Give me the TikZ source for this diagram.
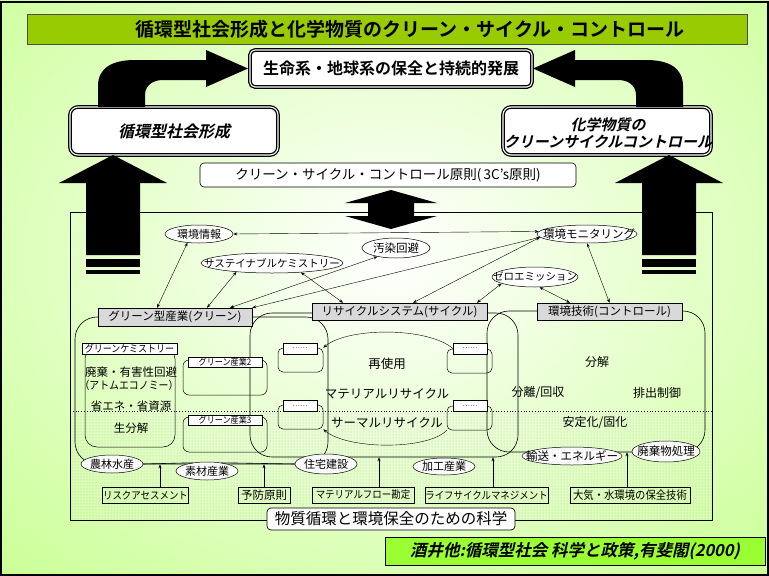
\documentclass[tikz,border=0pt]{standalone}
\usepackage{fontspec}
\setmainfont{Noto Sans CJK JP}[BoldFont={Noto Sans CJK JP Bold}]
\newfontfamily\jpbsl{Noto Sans CJK JP Bold}[FakeSlant=0.22]
\newfontfamily\jpc{Noto Sans CJK JP}[FakeStretch=0.9]
\usetikzlibrary{shapes.geometric,patterns,arrows.meta,calc}
\newcommand\fsz[1]{\fontsize{#1}{#1}\selectfont}
\definecolor{bglight}{HTML}{CCFF99}
\definecolor{titlegreen}{HTML}{99CC00}
\definecolor{srcgreen}{HTML}{99FF33}
\definecolor{graybox}{HTML}{D9D9D9}
\begin{document}
\begin{tikzpicture}[x=1pt,y=-1pt,
  ell/.style={ellipse, draw, line width=0.5pt, inner sep=0pt, fill=white},
  dotell/.style={ell, postaction={pattern=dots, pattern color=gray!50}},
  txt/.style={inner sep=0pt},
  glabel/.style={draw, line width=0.5pt, fill=graybox, inner sep=0pt, font=\fsz{11.5pt}},
  region/.style={draw, line width=0.6pt, rounded corners=22pt, inner sep=0pt},
  rbox/.style={draw, line width=0.5pt, rounded corners=6pt, inner sep=0pt},
  wlabel/.style={draw, line width=0.5pt, fill=white, inner sep=0pt},
  bbox/.style={draw, line width=0.5pt, inner sep=0.5pt, minimum height=16pt, font=\jpc\fsz{10.5pt}},
  link/.style={line width=0.4pt, {Stealth[length=4pt,width=3pt]}-{Stealth[length=4pt,width=3pt]}},
  uparr/.style={line width=0.4pt, -{Stealth[length=4pt,width=3pt]}},
  heavybox/.style={draw, line width=1.3pt, double=white, double distance=1.1pt, rounded corners=8pt, fill=white, inner sep=0pt}
]
\useasboundingbox (0,0) rectangle (769,576);
\begin{scope}
\clip (0,0) rectangle (769,576);
\fill[bglight] (0,0) rectangle (769,576);
\shade[inner color=white, outer color=bglight] (391,255) ellipse [x radius=560pt, y radius=430pt];
\end{scope}
\draw[line width=1.5pt] (1,2) rectangle (768,575);

% title
\node[draw=black!70, line width=0.6pt, fill=titlegreen, minimum width=720pt, minimum height=30pt, inner sep=0pt] (title) at (387,29) {};
\node[txt, font=\bfseries\fsz{19pt}] (title-t) at (410,29) {循環型社会形成と化学物質のクリーン・サイクル・コントロール};

% goal and side boxes
\node[heavybox, rounded corners=5pt, minimum width=282pt, minimum height=37pt, font=\bfseries\fsz{16pt}] (goal) at (391,68.5) {生命系・地球系の保全と持続的発展};
\node[heavybox, minimum width=208pt, minimum height=48pt] (lbox) at (174,131) {};
\node[txt, font=\jpbsl\fsz{16pt}] (lbox-t) at (lbox) {循環型社会形成};
\node[heavybox, minimum width=208pt, minimum height=48pt] (rbox) at (607,131) {};
\node[txt, align=center, font=\jpbsl\fontsize{15pt}{17pt}\selectfont] (rbox-t) at (608,133) {化学物質の\\クリーンサイクルコントロール};

% bent block arrows
\fill (98,107) -- (98,86) .. controls (98,68) and (112,60) .. (135,60) -- (206,60) -- (206,50) -- (248,68.5) -- (206,87) -- (206,80) -- (163,80) .. controls (152,80) and (145,86) .. (145,95) -- (145,107) -- cycle;
\fill (683,107) -- (683,86) .. controls (683,68) and (669,60) .. (646,60) -- (575,60) -- (575,50) -- (533,68.5) -- (575,87) -- (575,80) -- (618,80) .. controls (629,80) and (636,86) .. (636,95) -- (636,107) -- cycle;

% principle box
\node[draw, line width=0.6pt, rounded corners=4pt, fill=white, minimum width=376pt, minimum height=24pt, inner sep=0pt, font=\fsz{13.5pt}] (pr) at (388,175) {クリーン・サイクル・コントロール原則(\,3C's原則)};

% content frame
\fill[pattern=dots, pattern color=gray!50] (70,411) rectangle (712,520);
\draw[dotted, line width=0.8pt] (70,411) -- (712,411);
\node[draw, line width=0.8pt, minimum width=642pt, minimum height=308pt, inner sep=0pt] (frame) at (391,366) {};

% up block arrows
\fill (113,155) -- (167,183) -- (140,183) -- (140,255) -- (86,255) -- (86,183) -- (59,183) -- cycle;
\fill (86,259) rectangle (140,267);
\fill (86,270) rectangle (140,274);
\fill (669,155) -- (723,183) -- (696,183) -- (696,255) -- (642,255) -- (642,183) -- (615,183) -- cycle;
\fill (642,259) rectangle (696,267);
\fill (642,270) rectangle (696,274);
% central double arrow
\fill (391,190) -- (437,203) -- (414,203) -- (414,216) -- (437,216) -- (391,229) -- (345,216) -- (368,216) -- (368,203) -- (345,203) -- cycle;

% regions
\node[region, minimum width=253pt, minimum height=147pt] (greenR) at (201.5,390.5) {};
\node[region, minimum width=268pt, minimum height=144pt] (cycleR) at (384,385) {};
\node[region, minimum width=218pt, minimum height=141pt] (ctrlR) at (596,381.5) {};

% green internals
\node[rbox, rounded corners=12pt, minimum width=90pt, minimum height=100pt] (gchemR) at (130,397) {};
\node[wlabel, minimum width=95pt, minimum height=11pt, font=\jpc\fsz{10pt}] (gchemL) at (129.5,348.5) {グリーンケミストリー};
\node[txt, font=\fsz{11.5pt}] (g-t1) at (131,372) {廃棄・有害性回避};
\node[txt, font=\jpc\fsz{11pt}] (g-t2) at (129,385) {（アトムエコノミー）};
\node[txt, font=\fsz{11.5pt}] (g-t3) at (131,406) {省エネ・省資源};
\node[txt, font=\fsz{11.5pt}] (g-t4) at (131,428) {生分解};
\node[rbox, minimum width=84pt, minimum height=35pt] (gi2R) at (225,377.5) {};
\node[wlabel, minimum width=74pt, minimum height=10pt, font=\jpc\fsz{9pt}] (gi2L) at (225,362) {グリーン産業2};
\node[rbox, minimum width=84pt, minimum height=35pt] (gi3R) at (225,434.5) {};
\node[wlabel, minimum width=74pt, minimum height=10pt, font=\jpc\fsz{9pt}] (gi3L) at (225,420) {グリーン産業3};

% cycle internals
\node[rbox, rounded corners=5pt, minimum width=45pt, minimum height=24pt] (lsb1) at (300.5,360) {};
\node[wlabel, minimum width=34pt, minimum height=11pt, font=\fsz{7pt}] (lsl1) at (300,348.5) {……};
\node[rbox, rounded corners=5pt, minimum width=45pt, minimum height=24pt] (lsb2) at (300.5,417) {};
\node[wlabel, minimum width=34pt, minimum height=11pt, font=\fsz{7pt}] (lsl2) at (300,406) {……};
\node[rbox, rounded corners=5pt, minimum width=45pt, minimum height=24pt] (rsb1) at (469.5,361) {};
\node[wlabel, minimum width=34pt, minimum height=11pt, font=\fsz{7pt}] (rsl1) at (470,348.5) {……};
\node[rbox, rounded corners=5pt, minimum width=45pt, minimum height=24pt] (rsb2) at (469.5,418) {};
\node[wlabel, minimum width=34pt, minimum height=11pt, font=\fsz{7pt}] (rsl2) at (470,406) {……};
\draw[uparr] (rsl1.west) .. controls (428,327) and (348,327) .. (lsb1.north east);
\draw[uparr] (rsb2.south west) .. controls (428,450) and (348,450) .. (lsb2.south east);
\node[txt, font=\fsz{12.5pt}] (c-t1) at (387,364) {再使用};
\node[txt, font=\fsz{12.5pt}] (c-t2) at (387,394) {マテリアルリサイクル};
\node[txt, font=\fsz{12.5pt}] (c-t3) at (387,423) {サーマルリサイクル};

% control internals
\node[txt, font=\fsz{12pt}] (k-t1) at (597,362) {分解};
\node[txt, font=\fsz{12pt}] (k-t2) at (538,393) {分離/回収};
\node[txt, font=\fsz{12pt}] (k-t3) at (657,393) {排出制御};
\node[txt, font=\fsz{12pt}] (k-t4) at (595,423) {安定化/固化};

% gray labels
\node[glabel, minimum width=154pt, minimum height=18pt] (greenL) at (175,317) {グリーン型産業(クリーン)};
\node[glabel, minimum width=175pt, minimum height=17pt] (cycleL) at (399.5,311.5) {リサイクルシステム(サイクル)};
\node[glabel, minimum width=145pt, minimum height=17pt] (ctrlL) at (609.5,311.5) {環境技術(コントロール)};

% upper ellipses
\node[ell, minimum width=68pt, minimum height=18pt] (info) at (199,234) {};
\node[txt, font=\fsz{11pt}] (info-t) at (info) {環境情報};
\node[ell, minimum width=142pt, minimum height=20pt] (sust) at (272,263) {};
\node[txt, font=\fsz{10.5pt}] (sust-t) at (sust) {サステイナブルケミストリー};
\node[ell, minimum width=68pt, minimum height=20pt] (poll) at (396,248) {};
\node[txt, font=\fsz{11.5pt}] (poll-t) at (poll) {汚染回避};
\node[ell, minimum width=100pt, minimum height=18pt] (mon) at (587,234) {};
\node[txt, font=\fsz{11.5pt}] (mon-t) at (589,234) {環境モニタリング};
\node[ell, minimum width=86pt, minimum height=20pt] (zero) at (535,277) {};
\node[txt, font=\fsz{10.5pt}] (zero-t) at (zero) {ゼロエミッション};

% links
\draw[link] (info.-143) -- ([xshift=-18pt]greenL.north);
\draw[link] (sust.-166) -- ([xshift=32pt]greenL.north);
\draw[link] (poll.-155) -- ([xshift=55pt]greenL.north);
\draw[link] (mon.184) -- (greenL.north east);
\draw[link] (sust.-18) -- ([xshift=-56.5pt]cycleL.north);
\draw[link] (info.east) -- (mon.177);
\draw[link] (mon.184) -- ([xshift=13.5pt]cycleL.north);
\draw[link] (zero.-169) -- ([xshift=77.5pt]cycleL.north);
\draw[link] (zero.-66) -- ([xshift=-39.5pt]ctrlL.north);
\draw[link] (mon.south) -- (ctrlL.north);

% lower ellipses
\node[dotell, minimum width=62pt, minimum height=18pt] (nourin) at (112,464) {};
\node[txt, font=\fsz{11pt}] (nourin-t) at (nourin) {農林水産};
\node[dotell, minimum width=62pt, minimum height=18pt] (sozai) at (207,471) {};
\node[txt, font=\fsz{11pt}] (sozai-t) at (sozai) {素材産業};
\node[dotell, minimum width=62pt, minimum height=20pt] (jutaku) at (326,464) {};
\node[txt, font=\fsz{11pt}] (jutaku-t) at (jutaku) {住宅建設};
\node[dotell, minimum width=62pt, minimum height=17pt] (kakou) at (444,466.5) {};
\node[txt, font=\fsz{11pt}] (kakou-t) at (kakou) {加工産業};
\node[dotell, minimum width=100pt, minimum height=18pt] (yusou) at (572,456) {};
\node[txt, font=\fsz{11.5pt}] (yusou-t) at (yusou) {輸送・エネルギー};
\node[dotell, minimum width=68pt, minimum height=21pt] (haiki) at (666,451.5) {};
\node[txt, font=\fsz{11.5pt}] (haiki-t) at (haiki) {廃棄物処理};
\draw[line width=0.6pt] (nourin.east) -- (sozai.150);
\draw[line width=0.6pt] (sozai.30) -- (jutaku.west);

% bottom boxes
\node[bbox, minimum width=85pt] (risk) at (145.5,495) {リスクアセスメント};
\node[bbox, minimum width=52pt, font=\fsz{11.5pt}] (yobou) at (264,495) {予防原則};
\node[bbox, minimum width=102pt] (mflow) at (363,495) {マテリアルフロー勘定};
\node[bbox, minimum width=123pt] (lca) at (486.5,495) {ライフサイクルマネジメント};
\node[bbox, minimum width=120pt, font=\jpc\fsz{11.5pt}] (taiki) at (630,495) {大気・水環境の保全技術};
\coordinate (riskTop) at ([xshift=14.5pt]risk.north);
\coordinate (mflowTop) at ([xshift=16pt]mflow.north);
\coordinate (lcaTop) at ([xshift=6.5pt]lca.north);
\coordinate (taikiTop) at ([xshift=-3pt]taiki.north);
\draw[uparr] (riskTop) -- (riskTop |- greenR.south);
\draw[uparr] (yobou.north) -- (yobou.north |- greenR.south);
\draw[uparr] (mflowTop) -- (mflowTop |- cycleR.south);
\draw[uparr] (lcaTop) -- (lcaTop |- cycleR.south);
\draw[uparr] (taikiTop) -- (taikiTop |- ctrlR.south);

% science box
\node[draw, line width=0.7pt, rounded corners=4pt, fill=white, minimum width=248pt, minimum height=22pt, inner sep=0pt, font=\fsz{15.5pt}] (sci) at (391,519) {物質循環と環境保全のための科学};

% source
\node[draw, line width=0.8pt, fill=srcgreen, minimum width=380pt, minimum height=28pt, inner sep=0pt, font=\jpbsl\fsz{16.5pt}] (src) at (575,551) {酒井他:循環型社会\ 科学と政策,有斐閣(2000)};
\end{tikzpicture}
\end{document}
